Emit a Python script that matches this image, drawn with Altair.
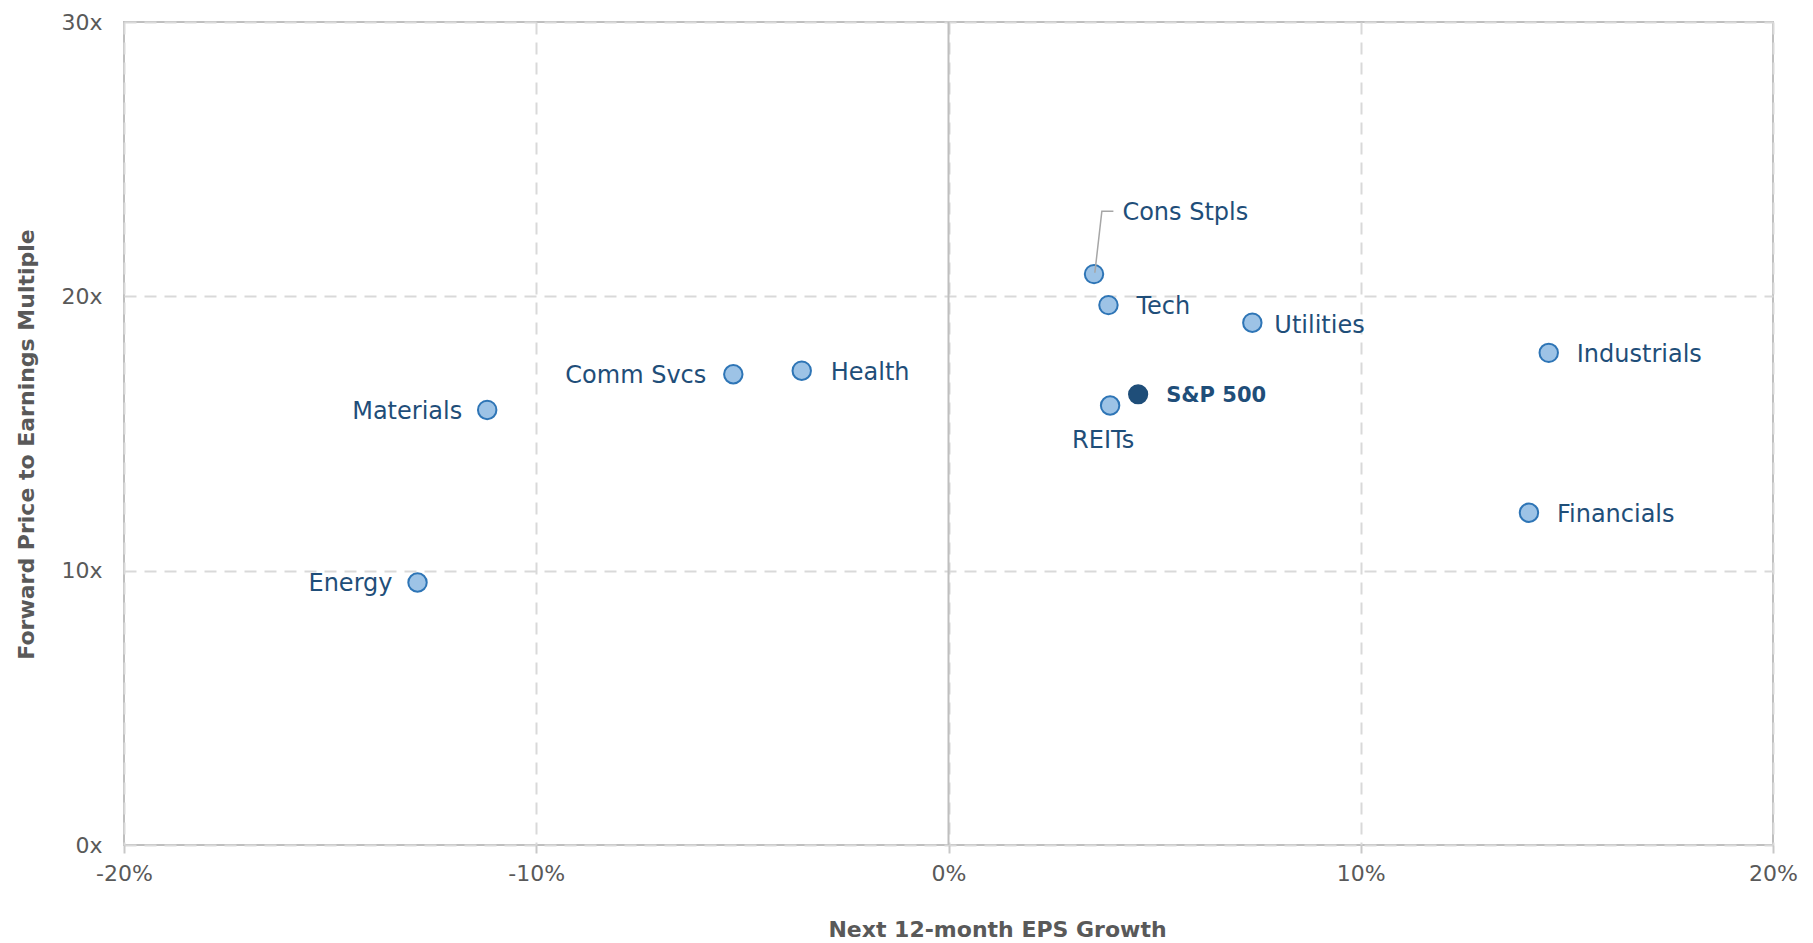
import altair as alt
import pandas as pd

# Data
SECTORS = ["Cons Stpls", "Tech", "Utilities", "Industrials", "Financials",
           "S&P 500", "REITs", "Health", "Comm Svcs", "Materials", "Energy"]
EPS_GROWTH = [3.53, 3.88, 7.37, 14.56, 14.08, 4.60, 3.92, -3.56, -5.22, -11.19, -12.88]
FWD_PE = [20.81, 19.68, 19.04, 17.94, 12.11, 16.43, 16.02, 17.29, 17.16, 15.86, 9.57]

X_TICKS = [-20, -10, 0, 10, 20]
Y_TICKS = [0, 10, 20, 30]

# Leader line for "Cons Stpls" label (data units)
LEADER_GROWTH = [3.55, 3.72, 4.00]
LEADER_PE = [20.86, 23.10, 23.10]

FONT = "DejaVu Sans"
LABEL_COLOR = "#1F4E79"
GRAY_TEXT = "#595959"

df = pd.DataFrame({"sector": SECTORS, "growth": EPS_GROWTH, "pe": FWD_PE})
leader = pd.DataFrame({"growth": LEADER_GROWTH, "pe": LEADER_PE, "order": [0, 1, 2]})
zero = pd.DataFrame({"growth": [0]})

xscale = alt.Scale(domain=[-20, 20], nice=False, zero=False)
yscale = alt.Scale(domain=[0, 30], nice=False)

x_enc = alt.X("growth:Q", scale=xscale, axis=alt.Axis(
    values=X_TICKS, labelExpr="datum.value + '%'", title="Next 12-month EPS Growth",
    grid=True, gridDash=[12, 8], gridColor="#D9D9D9", gridWidth=2,
    domain=False, ticks=True, tickSize=8, tickColor="#C8C8C8", tickWidth=2,
    labelFont=FONT, labelFontSize=22, labelColor=GRAY_TEXT, labelPadding=10,
    labelFlush=False,
    titleFont=FONT, titleFontSize=22, titleFontWeight="bold", titleColor=GRAY_TEXT,
    titleX=873, titleY=91, titleBaseline="alphabetic", titleAlign="center"))
y_enc = alt.Y("pe:Q", scale=yscale, axis=alt.Axis(
    values=Y_TICKS, labelExpr="datum.value + 'x'", title="Forward Price to Earnings Multiple",
    grid=True, gridDash=[12, 8], gridColor="#D9D9D9", gridWidth=2,
    domain=False, ticks=False, labelPadding=22,
    labelFont=FONT, labelFontSize=22, labelColor=GRAY_TEXT, labelFlush=False,
    titleFont=FONT, titleFontSize=22, titleFontWeight="bold", titleColor=GRAY_TEXT,
    titleX=-91, titleY=422, titleAngle=270, titleBaseline="alphabetic", titleAlign="center"))

x_plain = alt.X("growth:Q", scale=xscale)
y_plain = alt.Y("pe:Q", scale=yscale)

base = alt.Chart(df).mark_point(opacity=0).encode(x=x_enc, y=y_enc)

zero_rule = alt.Chart(zero).mark_rule(color="#BFBFBF", strokeWidth=2).encode(x=x_plain)

sector_pts = alt.Chart(df).transform_filter(alt.datum.sector != "S&P 500").mark_circle(
    size=340, fill="#9DC3E6", stroke="#2E75B6", strokeWidth=2, opacity=1
).encode(x=x_plain, y=y_plain)

sp_pt = alt.Chart(df).transform_filter(alt.datum.sector == "S&P 500").mark_circle(
    size=350, fill="#1F4E79", stroke="#1F4E79", strokeWidth=1.5, opacity=1
).encode(x=x_plain, y=y_plain)

leader_line = alt.Chart(leader).mark_line(color="#A6A6A6", strokeWidth=1.5).encode(
    x=x_plain, y=y_plain, order="order:Q")

label_layout = {
    "Tech": (28, 2, "left"),
    "Utilities": (22, 3, "left"),
    "Industrials": (28, 2, "left"),
    "Financials": (28, 2, "left"),
    "Health": (29, 2, "left"),
    "Comm Svcs": (-27, 2, "right"),
    "Materials": (-25, 2, "right"),
    "Energy": (-25, 2, "right"),
    "REITs": (-7, 35, "center"),
}

labels = []
for name, (dx, dy, align) in label_layout.items():
    labels.append(
        alt.Chart(df).transform_filter(alt.datum.sector == name).mark_text(
            dx=dx, dy=dy, align=align, baseline="middle", font=FONT, fontSize=24,
            color=LABEL_COLOR
        ).encode(x=x_plain, y=y_plain, text="sector:N")
    )

sp_label = alt.Chart(df).transform_filter(alt.datum.sector == "S&P 500").mark_text(
    dx=28, dy=2, align="left", baseline="middle", font=FONT, fontSize=21,
    fontWeight="bold", color=LABEL_COLOR
).encode(x=x_plain, y=y_plain, text="sector:N")

cons_label = alt.Chart(df).transform_filter(alt.datum.sector == "Cons Stpls").transform_calculate(
    lx=str(LEADER_GROWTH[-1]), ly=str(LEADER_PE[-1])
).mark_text(
    dx=9, dy=2, align="left", baseline="middle", font=FONT, fontSize=24, color=LABEL_COLOR
).encode(x=alt.X("lx:Q", scale=xscale), y=alt.Y("ly:Q", scale=yscale), text="sector:N")

chart = alt.layer(base, zero_rule, sector_pts, sp_pt, leader_line, *labels, sp_label, cons_label).properties(
    width=1649, height=823,
    autosize=alt.AutoSizeParams(type="none"),
    padding={"left": 116, "top": 14, "right": 32, "bottom": 98},
).configure_view(stroke="#BFBFBF", strokeWidth=2)

chart.save("out.html", embed_options={"renderer": "svg", "actions": False})
